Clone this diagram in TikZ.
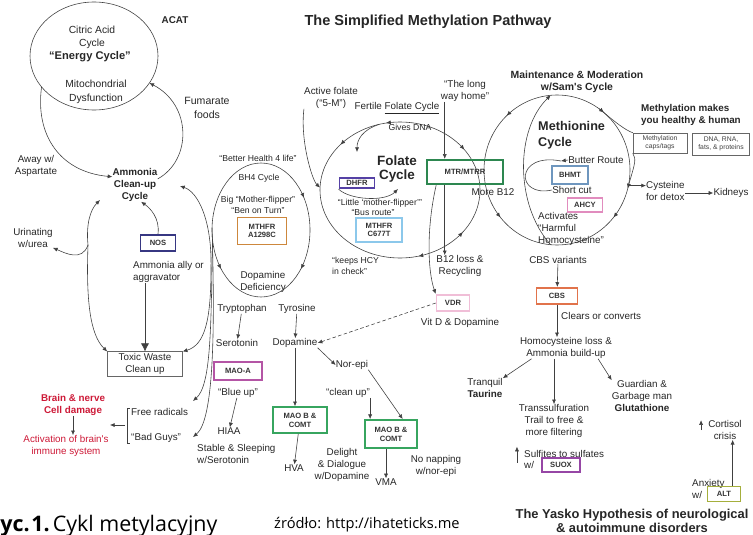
\documentclass[tikz,border=0pt]{standalone}
\usepackage{fontspec}
\setmainfont{Open Sans}
\newfontfamily\diagfont{Liberation Sans}
\usetikzlibrary{arrows.meta,calc,decorations.markings}

\definecolor{nosblue}{RGB}{55,55,130}
\definecolor{bhorange}{RGB}{205,135,60}
\definecolor{maopink}{RGB}{180,85,165}
\definecolor{maogreen}{RGB}{55,165,95}
\definecolor{vdrpink}{RGB}{240,190,215}
\definecolor{dhfrblue}{RGB}{85,65,165}
\definecolor{skyblue}{RGB}{140,200,235}
\definecolor{mtrgreen}{RGB}{45,135,80}
\definecolor{bhmtblue}{RGB}{110,150,190}
\definecolor{ahcypink}{RGB}{225,140,190}
\definecolor{cbsred}{RGB}{225,115,75}
\definecolor{suoxpurple}{RGB}{150,70,165}
\definecolor{altolive}{RGB}{165,175,60}
\definecolor{damagered}{RGB}{205,25,55}

\tikzset{
    lbl/.style={font=\diagfont\fontsize{8.4}{10.2}\selectfont, align=center, inner sep=0pt, text=black!85},
    slbl/.style={lbl, font=\diagfont\fontsize{7.4}{10}\selectfont},
    blbl/.style={lbl, font=\diagfont\bfseries\fontsize{8.4}{10.2}\selectfont},
    redlbl/.style={lbl, text=damagered},
    gene/.style={draw=#1, line width=1.5pt, font=\diagfont\bfseries\fontsize{6.5}{7.5}\selectfont, align=center, inner sep=1pt, text=black!80},
    plainbox/.style={draw=black!60, line width=0.5pt, font=\diagfont\fontsize{5.8}{6.8}\selectfont, align=center, inner sep=1pt, text=black!75},
    cyc/.style={draw=black!75, line width=0.5pt},
    tips/.style={postaction={decorate}, decoration={markings, #1}},
}

\begin{document}
\begin{tikzpicture}[x=0.03cm, y=-0.03cm, >={Latex[length=4pt,width=3.5pt]}]
    \useasboundingbox (0,0) rectangle (753,535);

    \draw[cyc] (94,56) coordinate (enc) ellipse [x radius=64, y radius=54];
    \draw[cyc, tips={mark=at position 0.11 with {\arrow{>}}, mark=at position 0.39 with {\arrowreversed{>}}, mark=at position 0.91 with {\arrow{>}}}] (261,230) coordinate (mthc) ellipse [x radius=49, y radius=67];
    \draw[cyc, tips={mark=at position 0.1 with {\arrowreversed{>}}, mark=at position 0.21 with {\arrow{>}}, mark=at position 0.61 with {\arrowreversed{>}}, mark=at position 0.72 with {\arrowreversed{>}}, mark=at position 0.905 with {\arrow{>}}}] (400,190) coordinate (folc) ellipse [x radius=80, y radius=68];
    \draw[cyc, tips={mark=at position 0.04 with {\arrow{>}}, mark=at position 0.11 with {\arrow{>}}, mark=at position 0.39 with {\arrowreversed{>}}, mark=at position 0.63 with {\arrowreversed{>}}, mark=at position 0.86 with {\arrow{>}}}] (557,170) coordinate (metc) ellipse [x radius=73, y radius=75];

    \node[blbl] (acat) at (175,20) {ACAT};
    \node[blbl, font=\diagfont\bfseries\fontsize{12.4}{14}\selectfont] (title) at (428,22) {The Simplified Methylation Pathway};
    \node[lbl, font=\diagfont\fontsize{8.8}{11}\selectfont] (citric) at (92,37) {Citric Acid\\Cycle};
    \node[blbl, font=\diagfont\bfseries\fontsize{9.5}{11}\selectfont] (energy) at (90,57) {“Energy Cycle”};
    \node[lbl, font=\diagfont\fontsize{8.8}{12}\selectfont] (mito) at (96,92) {Mitochondrial\\Dysfunction};
    \node[lbl] (away) at (36,166) {Away w/\\Aspartate};
    \node[lbl, font=\diagfont\fontsize{9}{12}\selectfont] (fumarate) at (207,108) {Fumarate\\foods};
    \node[blbl] (ammonia) at (135,185) {Ammonia\\Clean-up\\Cycle};
    \node[lbl] (urinating) at (33,238) {Urinating\\w/urea};
    \node[gene=nosblue, minimum width=30pt, minimum height=14pt] (nos) at (158,243) {NOS};
    \node[lbl, align=left, anchor=west] (ally) at (133,272) {Ammonia ally or\\aggravator};
    \node[lbl, draw=black!60, minimum width=64pt, minimum height=21pt] (toxic) at (145,364) {Toxic Waste\\Clean up};
    \node[redlbl, font=\diagfont\bfseries\fontsize{8.4}{10.2}\selectfont] (brain) at (73,405) {Brain \& nerve\\Cell damage};
    \node[redlbl] (activation) at (66,446) {Activation of brain's\\immune system};
    \node[lbl, anchor=west] (freerad) at (131,412) {Free radicals};
    \node[lbl, anchor=west] (badguys) at (131,438) {“Bad Guys”};

    \node[slbl] (better) at (258,158) {“Better Health 4 life”};
    \node[slbl] (bh4) at (259,178) {BH4 Cycle};
    \node[slbl] (bigmf) at (258,205) {Big “Mother-flipper”\\“Ben on Turn”};
    \node[gene=bhorange, minimum width=42pt, minimum height=23pt] (mthfra) at (262,231) {MTHFR\\A1298C};
    \node[lbl] (dopdef) at (263,282) {Dopamine\\Deficiency};
    \node[lbl] (tryp) at (242,309) {Tryptophan};
    \node[lbl] (sero) at (237,343) {Serotonin};
    \node[lbl] (tyro) at (297,309) {Tyrosine};
    \node[lbl] (dopa) at (295,343) {Dopamine};
    \node[gene=maopink, minimum width=41pt, minimum height=16pt] (maoa) at (238,371) {MAO-A};
    \node[lbl] (blueup) at (238,393) {“Blue up”};
    \node[lbl] (hiaa) at (229,431) {HIAA};
    \node[lbl, align=left, anchor=west] (stable) at (197,454) {Stable \& Sleeping\\w/Serotonin};
    \node[gene=maogreen, minimum width=46pt, minimum height=22pt] (maob) at (300,420) {MAO B \&\\COMT};
    \node[lbl] (hva) at (294,468) {HVA};
    \node[lbl] (delight) at (342,465) {Delight\\\& Dialogue\\w/Dopamine};
    \node[lbl] (norepi) at (352,365) {Nor-epi};
    \node[lbl] (cleanup) at (348,393) {“clean up”};
    \node[gene=maogreen, minimum width=45pt, minimum height=24pt] (maobb) at (391,434) {MAO B \&\\COMT};
    \node[lbl] (vma) at (386,482) {VMA};
    \node[lbl] (nonap) at (436,466) {No napping\\w/nor-epi};

    \node[lbl] (active) at (331,98) {Active folate\\(“5-M”)};
    \node[lbl] (fertile) at (397,108) {Fertile \underline{Folate Cycle}};
    \node[slbl] (gives) at (410,127) {Gives DNA};
    \node[blbl, font=\diagfont\bfseries\fontsize{11.5}{12}\selectfont] (folate) at (397,169) {Folate\\Cycle};
    \node[gene=dhfrblue, minimum width=30pt, minimum height=9pt, inner sep=0.5pt] (dhfr) at (357,183) {DHFR};
    \node[slbl] (little) at (380,203) {“Little ‘mother-flipper’”};
    \node[slbl] (busroute) at (373,213) {“Bus route”};
    \node[gene=skyblue, minimum width=39pt, minimum height=21pt] (mthfrc) at (379,230) {MTHFR\\C677T};
    \node[slbl, align=left, anchor=west] (keeps) at (332,266) {“keeps HCY\\in check”};
    \node[lbl] (longway) at (465,91) {“The long\\way home”};
    \node[gene=mtrgreen, minimum width=65pt, minimum height=21pt] (mtr) at (465,172) {MTR/MTRR};
    \node[lbl] (moreb) at (493,192) {More B12};
    \node[lbl] (b12loss) at (460,266) {B12 loss \&\\Recycling};
    \node[gene=vdrpink, minimum width=28pt, minimum height=14pt] (vdr) at (453,303) {VDR};
    \node[lbl] (vitd) at (460,323) {Vit D \& Dopamine};

    \node[blbl, font=\diagfont\bfseries\fontsize{8.9}{10.5}\selectfont] (maint) at (577,82) {Maintenance \& Moderation\\w/Sam's Cycle};
    \node[blbl, font=\diagfont\bfseries\fontsize{10.8}{13.5}\selectfont, align=left, anchor=west] (methcyc) at (538,135) {Methionine\\Cycle};
    \node[blbl, align=left, anchor=west] (methmakes) at (641,115) {Methylation makes\\you healthy \& human};
    \node[plainbox, minimum width=46pt, minimum height=17pt] (mbox) at (660,143) {Methylation\\caps/tags};
    \node[plainbox, minimum width=49pt, minimum height=19pt] (dbox) at (721,144) {DNA, RNA,\\fats, \& proteins};
    \node[lbl] (butter) at (596,160) {Butter Route};
    \node[gene=bhmtblue, minimum width=31pt, minimum height=15pt] (bhmt) at (570,175) {BHMT};
    \node[lbl] (shortcut) at (572,190) {Short cut};
    \node[gene=ahcypink, minimum width=30pt, minimum height=12pt] (ahcy) at (585,205) {AHCY};
    \node[lbl, align=left, anchor=west] (harmful) at (538,229) {Activates\\“Harmful\\Homocysteine”};
    \node[lbl, align=left, anchor=west] (cysteine) at (646,191) {Cysteine\\for detox};
    \node[lbl] (kidneys) at (731,193) {Kidneys};
    \node[lbl] (cbsvar) at (558,260) {CBS variants};
    \node[gene=cbsred, minimum width=35pt, minimum height=14pt] (cbs) at (557,296) {CBS};
    \node[lbl, anchor=west] (clears) at (561,316) {Clears or converts};
    \node[lbl] (homoloss) at (566,348) {Homocysteine loss \&\\Ammonia build-up};
    \node[lbl] (taurine) at (485,388) {Tranquil\\\textbf{Taurine}};
    \node[lbl] (transs) at (554,421) {Transsulfuration\\Trail to free \&\\more filtering};
    \node[lbl] (guardian) at (642,396) {Guardian \&\\Garbage man\\\textbf{Glutathione}};
    \node[lbl, anchor=west] (sulfites) at (524,454) {Sulfites to sulfates};
    \node[lbl, anchor=west] (sulfw) at (524,465) {w/};
    \node[gene=suoxpurple, minimum width=32pt, minimum height=12pt] (suox) at (561,465) {SUOX};
    \node[lbl] (cortisol) at (725,430) {Cortisol\\crisis};
    \node[lbl, align=left, anchor=west] (anxiety) at (692,489) {Anxiety\\w/};
    \node[gene=altolive, minimum width=28pt, minimum height=13pt] (alt) at (724,494) {ALT};
    \node[blbl, font=\diagfont\bfseries\fontsize{11}{12}\selectfont] (yasko) at (632,521) {The Yasko Hypothesis of neurological\\\& autoimmune disorders};

    \node[anchor=base west, inner sep=0pt, font=\fontsize{18.3}{20}\selectfont] (ryc) at (-14,531) {\textbf{Ryc.}\kern1.5pt\textbf{1.}\kern2.5pt Cykl metylacyjny};
    \node[anchor=base west, inner sep=0pt, font=\fontsize{12.5}{14}\selectfont] (zrodlo) at (274,528) {źródło: http://ihateticks.me};

    \coordinate (en-out) at ($(enc)+(145:64 and 54)$);
    \coordinate (en-in) at ($(enc)+(30:64 and 54)$);
    \draw[->, cyc] (en-out) .. controls (35,135) and (60,172) .. (ammonia.160);
    \draw[->, cyc] (ammonia.15) .. controls (192,160) and (192,105) .. (en-in);

    \coordinate (amleft) at (88,245);
    \coordinate (amtop) at (100,200);
    \coordinate (amright) at (211,268);
    \coordinate (amtopr) at (180,186);
    \draw[->, cyc] (amleft) .. controls (86,225) and (90,210) .. (amtop);
    \draw[->, cyc] (amleft) .. controls (86,300) and (90,335) .. (toxic.north west);
    \draw[->, cyc] (amleft) .. controls (82,262) and (65,253) .. (urinating.south east);
    \draw[->, cyc] (amright) .. controls (212,220) and (198,192) .. (amtopr);
    \draw[->, cyc] (amright) .. controls (211,320) and (205,345) .. (toxic.north east);
    \draw[->, cyc] (nos.north) .. controls (160,218) and (150,208) .. (ammonia.-70);
    \draw[-{Latex[length=7pt,width=7pt]}, cyc] (ally.south -| toxic.north) -- (toxic.north);

    \coordinate (mth-w1) at ($(mthc)+(172:49 and 67)$);
    \coordinate (mth-w2) at ($(mthc)+(182:49 and 67)$);
    \coordinate (frtip) at (193,401);
    \coordinate (bgtip) at (193,437);
    \draw[->, cyc] (mth-w1) .. controls (211,330) and (211,385) .. (frtip);
    \draw[->, cyc] (mth-w2) .. controls (215,330) and (214,420) .. (bgtip);
    \draw[cyc] ([xshift=-1pt]freerad.north west) -- ++(-3,0) |- ([xshift=-1pt]badguys.south west);
    \coordinate (brack) at (125,425);
    \coordinate (dmgtip) at (110,425);
    \draw[->, cyc] (brack) -- (dmgtip);
    \draw[->, cyc] (brain.south) -- (brain.south |- activation.north);

    \draw[->, cyc] (tryp) -- (sero);
    \draw[->, cyc] (tyro) -- (dopa);
    \draw[->, cyc] (dopa.south) -- (dopa.south |- maob.north);
    \draw[->, cyc] (blueup) -- (hiaa);
    \draw[->, cyc] (maob) -- (hva);
    \draw[->, cyc] (dopa.south east) -- (norepi.west);
    \draw[->, cyc] (norepi.south east) -- ([xshift=10pt]maobb.north);
    \draw[->, cyc] (cleanup.south east) -- (cleanup.south east |- maobb.north);
    \draw[->, cyc] (maobb.south -| vma) -- (vma.north);
    \draw[->, cyc, densely dashed] (vdr.west) -- (dopa.east);

    \coordinate (fol-w) at ($(folc)+(182:80 and 68)$);
    \coordinate (fol-n) at ($(folc)+(255:80 and 68)$);
    \coordinate (fol-dna) at (357,152);
    \coordinate (lmf) at (398,189);
    \draw[->, cyc] (active.south west) .. controls (300,140) and (312,180) .. (fol-w);
    \draw[->, cyc] (fol-n) .. controls (362,130) and (357,140) .. (fol-dna);
    \draw[->, cyc] (dhfr.south west) .. controls (350,200) and (385,202) .. (lmf);

    \coordinate (mtr-t) at ($(mtr.north west)!0.24!(mtr.north east)$);
    \coordinate (mtr-b) at ($(mtr.south west)!0.24!(mtr.south east)$);
    \coordinate (mtr-v) at ($(mtr.south west)!0.13!(mtr.south east)$);
    \draw[->, cyc] (longway.south -| mtr-t) -- (mtr-t);
    \draw[->, cyc] (mtr-b) -- (mtr-b |- b12loss.north);
    \draw[->, cyc] (mtr-v) .. controls (426,230) and (428,272) .. (vdr.north west);

    \coordinate (met-n) at ($(metc)+(265:73 and 75)$);
    \coordinate (met-s) at ($(metc)+(95:73 and 75)$);
    \coordinate (met-ne) at ($(metc)+(305:73 and 75)$);
    \coordinate (met-e) at ($(metc)+(12:73 and 75)$);
    \coordinate (bhmt-in) at (561,161);
    \draw[->, cyc] (met-s) .. controls (515,205) and (515,130) .. (met-n);
    \draw[cyc] (met-ne) .. controls (615,122) and (625,130) .. (mbox.north west);
    \draw[cyc] (mbox.south west) .. controls (636,160) .. (met-e);
    \draw[->, cyc] (met-e) -- (met-e -| cysteine.west);
    \draw[->, cyc] (cysteine.east |- kidneys) -- (kidneys.west);
    \draw[->, cyc] (butter.west) -- (bhmt-in);
    \draw[cyc] (bhmt-in) .. controls (515,152) and (515,198) .. (shortcut.west);

    \draw[->, cyc] (cbsvar) -- (cbs);
    \draw[->, cyc] (cbs.south) -- (cbs.south |- homoloss.north);
    \draw[->, cyc] ([xshift=10pt]homoloss.south west) -- (taurine.north east);
    \draw[->, cyc] (homoloss.south -| transs) -- (transs.north);
    \draw[->, cyc] ([xshift=-12pt]homoloss.south east) -- (guardian.north west);
    \draw[->, cyc] ([xshift=-6pt,yshift=-4pt]sulfites.south west) -- ([xshift=-6pt,yshift=3pt]sulfites.north west);
    \draw[->, cyc] ([xshift=-6pt]cortisol.west) -- ([xshift=-6pt]cortisol.north west);
    \coordinate (alt-t) at ($(alt.north)!0.5!(alt.north east)$);
    \draw[->, cyc] (alt-t) -- (alt-t |- cortisol.south);
\end{tikzpicture}
\end{document}
